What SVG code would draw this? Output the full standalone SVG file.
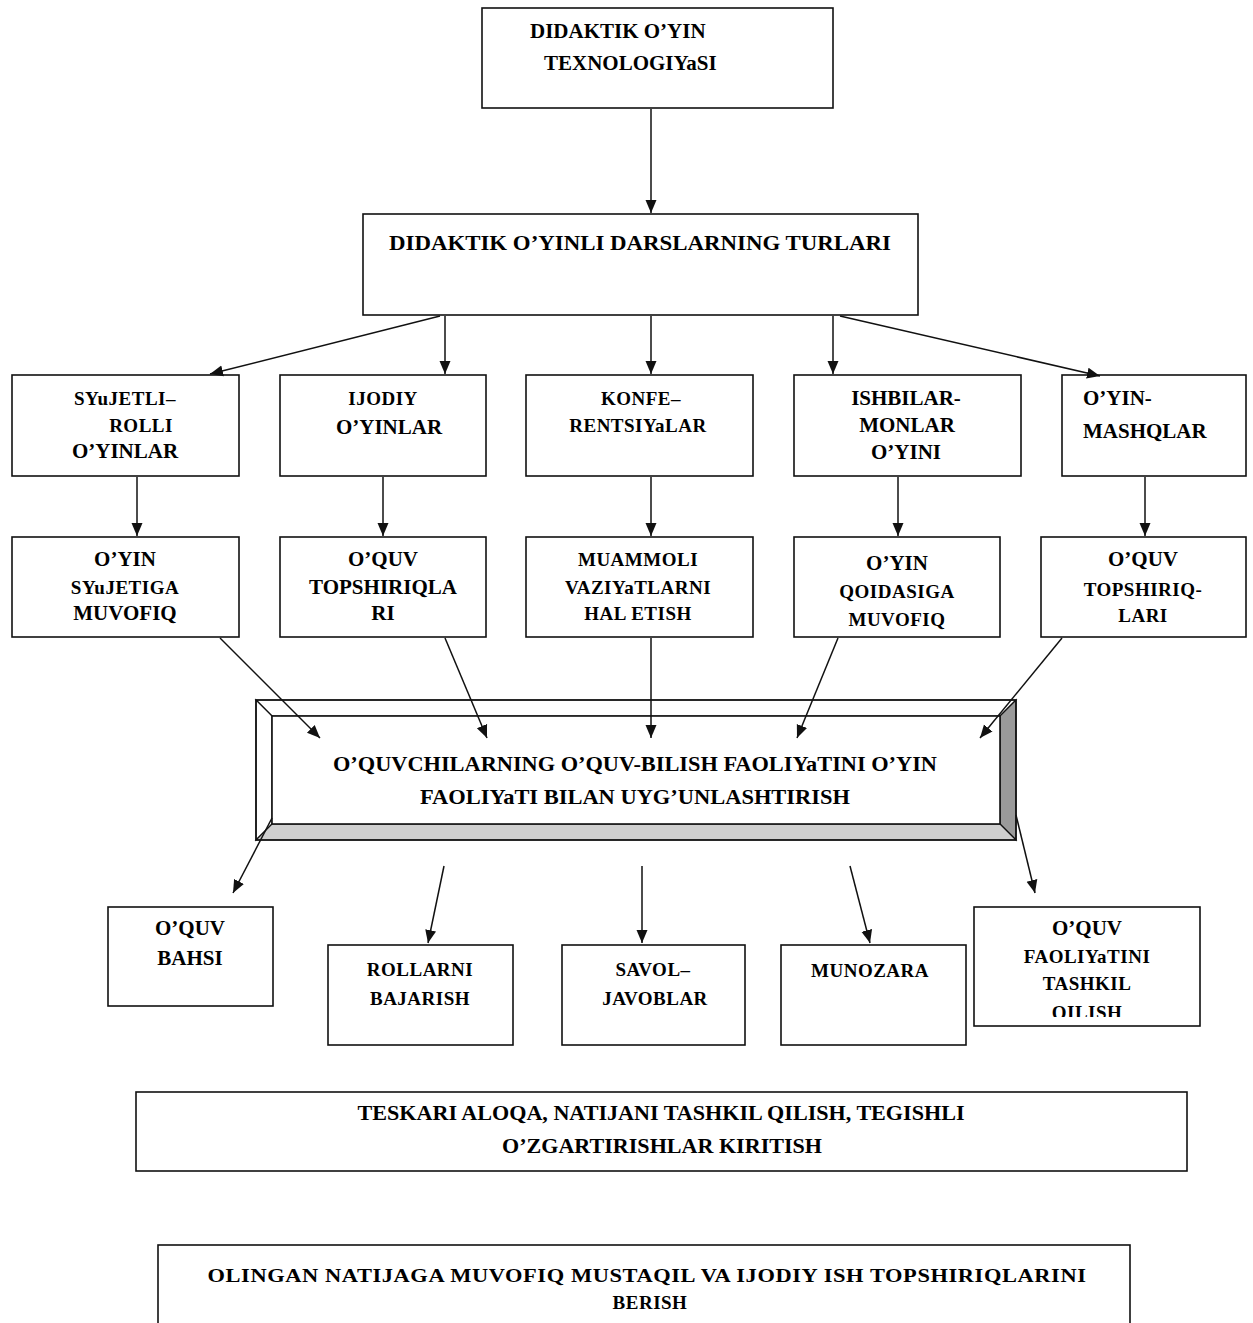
<svg xmlns="http://www.w3.org/2000/svg" width="1253" height="1323" viewBox="0 0 1253 1323">
<defs>
<style>
.box{fill:#fff;stroke:#111;stroke-width:1.6}
.t{font-family:"Liberation Serif","Times New Roman",serif;font-weight:bold;font-size:21px;fill:#000;text-anchor:middle}
.tl{text-anchor:start}
.m{font-size:19px;letter-spacing:0.5px}
.c{stroke:#111;stroke-width:1.5;fill:none;marker-end:url(#ah)}
</style>
<marker id="ah" markerUnits="userSpaceOnUse" markerWidth="14" markerHeight="14" viewBox="0 0 14 14" refX="13" refY="7" orient="auto">
<path d="M0,1.5 L13,7 L0,12.5 Z" fill="#111"/>
</marker>
<clipPath id="clipQ"><rect x="974" y="907" width="226" height="110"/></clipPath>
</defs>
<rect x="0" y="0" width="1253" height="1323" fill="#fff"/>

<g id="n-tech">
<rect class="box" x="482" y="8" width="351" height="100"/>
<text class="t tl" x="530" y="38">DIDAKTIK O’YIN</text>
<text class="t tl" x="544" y="70">TEXNOLOGIYaSI</text>
</g>

<g id="n-turlari">
<rect class="box" x="363" y="214" width="555" height="101"/>
<text class="t" x="640" y="250" textLength="502" lengthAdjust="spacingAndGlyphs">DIDAKTIK O’YINLI DARSLARNING TURLARI</text>
</g>

<g id="n-syujetli">
<rect class="box" x="12" y="375" width="227" height="101"/>
<text class="t m" x="125" y="405">SYuJETLI–</text>
<text class="t m" x="141" y="432">ROLLI</text>
<text class="t" x="125" y="458">O’YINLAR</text>
</g>
<g id="n-ijodiy">
<rect class="box" x="280" y="375" width="206" height="101"/>
<text class="t m" x="383" y="405">IJODIY</text>
<text class="t" x="389" y="434">O’YINLAR</text>
</g>
<g id="n-konfe">
<rect class="box" x="526" y="375" width="227" height="101"/>
<text class="t m" x="641" y="405">KONFE–</text>
<text class="t m" x="638" y="432">RENTSIYaLAR</text>
</g>
<g id="n-ishbilar">
<rect class="box" x="794" y="375" width="227" height="101"/>
<text class="t" x="906" y="405">ISHBILAR-</text>
<text class="t" x="907" y="432">MONLAR</text>
<text class="t" x="906" y="459">O’YINI</text>
</g>
<g id="n-mashq">
<rect class="box" x="1062" y="375" width="184" height="101"/>
<text class="t tl" x="1083" y="405">O’YIN-</text>
<text class="t tl" x="1083" y="438">MASHQLAR</text>
</g>

<g id="n-syujetiga">
<rect class="box" x="12" y="537" width="227" height="100"/>
<text class="t" x="125" y="566">O’YIN</text>
<text class="t m" x="125" y="594">SYuJETIGA</text>
<text class="t" x="125" y="620">MUVOFIQ</text>
</g>
<g id="n-topshiriqlari">
<rect class="box" x="280" y="537" width="206" height="100"/>
<text class="t" x="383" y="566">O’QUV</text>
<text class="t" x="383" y="594">TOPSHIRIQLA</text>
<text class="t" x="383" y="620">RI</text>
</g>
<g id="n-muammoli">
<rect class="box" x="526" y="537" width="227" height="100"/>
<text class="t m" x="638" y="566">MUAMMOLI</text>
<text class="t m" x="638" y="594">VAZIYaTLARNI</text>
<text class="t m" x="638" y="620">HAL ETISH</text>
</g>
<g id="n-qoidasiga">
<rect class="box" x="794" y="537" width="206" height="100"/>
<text class="t" x="897" y="570">O’YIN</text>
<text class="t m" x="897" y="598">QOIDASIGA</text>
<text class="t m" x="897" y="626">MUVOFIQ</text>
</g>
<g id="n-topshiriq2">
<rect class="box" x="1041" y="537" width="205" height="100"/>
<text class="t" x="1143" y="566">O’QUV</text>
<text class="t m" x="1143" y="596">TOPSHIRIQ-</text>
<text class="t m" x="1143" y="622">LARI</text>
</g>

<g id="n-main">
<polygon points="256,700 1016,700 1000,716 272,716" fill="#fff" stroke="#111" stroke-width="1.2"/>
<polygon points="256,700 272,716 272,824 256,840" fill="#fff" stroke="#111" stroke-width="1.2"/>
<polygon points="1016,700 1016,840 1000,824 1000,716" fill="#9a9a9a" stroke="#111" stroke-width="1.2"/>
<polygon points="256,840 272,824 1000,824 1016,840" fill="#cfcfcf" stroke="#111" stroke-width="1.2"/>
<rect x="272" y="716" width="728" height="108" fill="#fff" stroke="#111" stroke-width="1.6"/>
<rect x="256" y="700" width="760" height="140" fill="none" stroke="#111" stroke-width="1.6"/>
<text class="t" x="635" y="771" textLength="604" lengthAdjust="spacingAndGlyphs">O’QUVCHILARNING O’QUV-BILISH FAOLIYaTINI O’YIN</text>
<text class="t" x="635" y="804" textLength="430" lengthAdjust="spacingAndGlyphs">FAOLIYaTI BILAN UYG’UNLASHTIRISH</text>
</g>

<g id="n-bahsi">
<rect class="box" x="108" y="907" width="165" height="99"/>
<text class="t" x="190" y="935">O’QUV</text>
<text class="t" x="190" y="965">BAHSI</text>
</g>
<g id="n-rollarni">
<rect class="box" x="328" y="945" width="185" height="100"/>
<text class="t m" x="420" y="976">ROLLARNI</text>
<text class="t m" x="420" y="1005">BAJARISH</text>
</g>
<g id="n-savol">
<rect class="box" x="562" y="945" width="183" height="100"/>
<text class="t m" x="653" y="976">SAVOL–</text>
<text class="t m" x="655" y="1005">JAVOBLAR</text>
</g>
<g id="n-munozara">
<rect class="box" x="781" y="945" width="185" height="100"/>
<text class="t m" x="870" y="977">MUNOZARA</text>
</g>
<g id="n-faoliyat">
<rect class="box" x="974" y="907" width="226" height="119"/>
<g clip-path="url(#clipQ)">
<text class="t" x="1087" y="935">O’QUV</text>
<text class="t m" x="1087" y="963">FAOLIYaTINI</text>
<text class="t m" x="1087" y="990">TASHKIL</text>
<text class="t m" x="1087" y="1019">QILISH</text>
</g>
</g>

<g id="n-teskari">
<rect class="box" x="136" y="1092" width="1051" height="79"/>
<text class="t" x="661" y="1120" textLength="607" lengthAdjust="spacingAndGlyphs">TESKARI ALOQA, NATIJANI TASHKIL QILISH, TEGISHLI</text>
<text class="t" x="662" y="1153" textLength="320" lengthAdjust="spacingAndGlyphs">O’ZGARTIRISHLAR KIRITISH</text>
</g>

<g id="n-olingan">
<rect class="box" x="158" y="1245" width="972" height="90"/>
<text class="t m" x="647" y="1282" textLength="879" lengthAdjust="spacingAndGlyphs">OLINGAN NATIJAGA MUVOFIQ MUSTAQIL  VA  IJODIY  ISH  TOPSHIRIQLARINI</text>
<text class="t m" x="650" y="1309">BERISH</text>
</g>

<g id="connectors">
<line class="c" x1="651" y1="109" x2="651" y2="213"/>
<line class="c" x1="440" y1="316" x2="210" y2="374"/>
<line class="c" x1="445" y1="316" x2="445" y2="374"/>
<line class="c" x1="651" y1="316" x2="651" y2="374"/>
<line class="c" x1="833" y1="316" x2="833" y2="374"/>
<line class="c" x1="840" y1="316" x2="1100" y2="376"/>
<line class="c" x1="137" y1="477" x2="137" y2="536"/>
<line class="c" x1="383" y1="477" x2="383" y2="536"/>
<line class="c" x1="651" y1="477" x2="651" y2="536"/>
<line class="c" x1="898" y1="477" x2="898" y2="536"/>
<line class="c" x1="1145" y1="477" x2="1145" y2="536"/>
<line class="c" x1="220" y1="638" x2="320" y2="738"/>
<line class="c" x1="445" y1="638" x2="487" y2="738"/>
<line class="c" x1="651" y1="638" x2="651" y2="738"/>
<line class="c" x1="838" y1="638" x2="797" y2="738"/>
<line class="c" x1="1062" y1="638" x2="980" y2="738"/>
<line class="c" x1="272" y1="818" x2="233" y2="893"/>
<line class="c" x1="444" y1="866" x2="428" y2="943"/>
<line class="c" x1="642" y1="866" x2="642" y2="943"/>
<line class="c" x1="850" y1="866" x2="870" y2="943"/>
<line class="c" x1="1016" y1="815" x2="1035" y2="893"/>
</g>
</svg>
